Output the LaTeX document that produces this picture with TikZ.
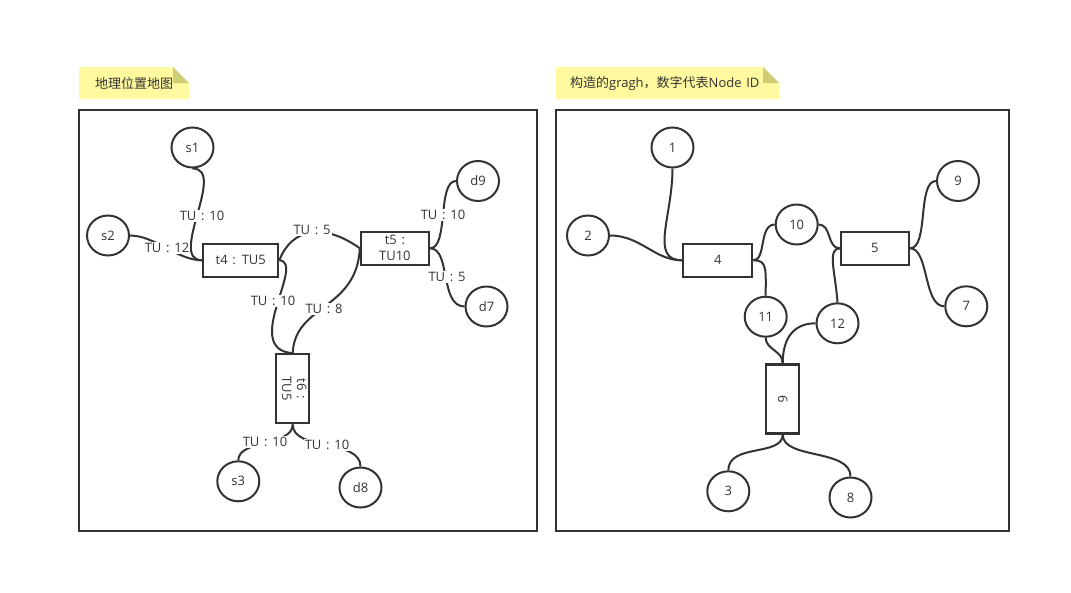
\documentclass[tikz,border=0pt]{standalone}
\usepackage{fontspec}
\usepackage{graphicx}
\setmainfont{Open Sans}[WordSpace=1.4]
\newfontfamily\cjk{Noto Sans CJK SC}
\usetikzlibrary{shapes.geometric}
\definecolor{ink}{HTML}{333333}
\definecolor{notefill}{RGB}{255,250,160}
\definecolor{notefold}{RGB}{205,205,120}
\tikzset{
  panel/.style={draw=ink, line width=2pt},
  circ/.style={ellipse, draw=ink, line width=2pt, minimum width=42pt, minimum height=40pt, inner sep=0pt, font=\fontsize{13}{15}\selectfont, text=ink},
  box/.style={rectangle, draw=ink, line width=2.2pt, inner sep=0pt, font=\fontsize{13}{16}\selectfont, text=ink, align=center},
  edge/.style={draw=ink, line width=2pt},
  lbl/.style={fill=white, inner sep=1pt, font=\fontsize{13}{15}\selectfont, text=ink},
  notetext/.style={font=\fontsize{13}{15}\selectfont, text=ink, anchor=west, inner sep=0pt}
}
\begin{document}
\begin{tikzpicture}[x=1pt,y=-1pt]
\useasboundingbox (0,0) rectangle (1071,592);
\fill[white] (0,0) rectangle (1071,592);

% notes
\fill[notefill] (79,67) -- (173,67) -- (189,83) -- (189,99) -- (79,99) -- cycle;
\fill[notefold] (173,67) -- (189,83) -- (173,83) -- cycle;
\node[notetext] (n1) at (95,83.5) {\cjk 地理位置地图};
\fill[notefill] (556,67) -- (763,67) -- (779,83) -- (779,99) -- (556,99) -- cycle;
\fill[notefold] (763,67) -- (779,83) -- (763,83) -- cycle;
\node[notetext] (n2) at (570,83.5) {{\cjk 构造的}gragh{\cjk ，数字代表}Node ID};

% panels
\draw[panel] (79,110) rectangle (537,531);
\draw[panel] (556,110) rectangle (1009,531);

% ---------- left panel ----------
\node[circ] (s1) at (192.5,147.5) {s1};
\node[circ] (s2) at (108,235.5) {s2};
\node[circ] (d9) at (478,181) {d9};
\node[circ] (d7) at (486.5,306.5) {d7};
\node[circ] (s3) at (238.3,481.3) {s3};
\node[circ] (d8) at (360.5,487.5) {d8};
\node[box, minimum width=75pt, minimum height=33pt] (t4) at (240.8,260.3) {t4 : TU5};
\node[box, minimum width=68pt, minimum height=33pt] (t5) at (394.9,248.3) {t5 :\\TU10};
\node[box, minimum width=33pt, minimum height=69pt] (t6) at (292.7,388.8)
  {\rotatebox{-90}{\begin{tabular}{@{}c@{}}t6 :\\[-1pt] TU5\end{tabular}}};

\draw[edge] (s1.south) .. controls +(35,0) and +(-35,0) .. (t4.west);
\draw[edge] (s2.east) .. controls +(25,0) and +(-25,0) .. (t4.west);
\draw[edge] (t4.east) .. controls +(12,-32) and +(-36,-26) .. (t5.west);
\draw[edge] (t4.east) .. controls +(27,2) and +(-52,-4) .. (t6.north);
\draw[edge] (t5.west) .. controls +(-3,62) and +(2,-49) .. (t6.north);
\draw[edge] (t5.east) .. controls +(19,0) and +(-19,0) .. (d9.west);
\draw[edge] (t5.east) .. controls +(21,0) and +(-25,0) .. (d7.west);
\draw[edge] (t6.south) .. controls +(0,22) and +(0,-21) .. (s3.north);
\draw[edge] (t6.south) .. controls +(0,27) and +(0,-28) .. (d8.north);

\node[lbl] (l1) at (202,216) {TU : 10};
\node[lbl] (l2) at (167,248) {TU : 12};
\node[lbl] (l3) at (312,230) {TU : 5};
\node[lbl] (l4) at (273,301) {TU : 10};
\node[lbl] (l5) at (324,309) {TU : 8};
\node[lbl] (l6) at (443,215) {TU : 10};
\node[lbl] (l7) at (447,277) {TU : 5};
\node[lbl] (l8) at (265,442) {TU : 10};
\node[lbl] (l9) at (327,445) {TU : 10};

% ---------- right panel ----------
\node[circ] (r1) at (672.5,147.5) {1};
\node[circ] (r2) at (588,235.5) {2};
\node[circ] (r10) at (796.7,224.5) {10};
\node[circ] (r9) at (958,181) {9};
\node[circ] (r7) at (966.3,306.3) {7};
\node[circ] (r11) at (765.7,316.7) {11};
\node[circ] (r12) at (837.5,323.3) {12};
\node[circ] (r3) at (728.3,491.3) {3};
\node[circ] (r8) at (850.5,497.5) {8};
\node[box, minimum width=69pt, minimum height=33pt] (r4) at (717.8,260.3) {4};
\node[box, minimum width=68pt, minimum height=33pt] (r5) at (874.9,248.3) {5};
\node[box, minimum width=33pt, minimum height=69pt] (r6) at (782.7,399) {\rotatebox{-90}{6}};

\draw[edge] (r1.south) .. controls +(0,48) and +(-33,0) .. (r4.west);
\draw[edge] (r2.east) .. controls +(31,0) and +(-28,0) .. (r4.west);
\draw[edge] (r4.east) .. controls +(13,0) and +(-16,0) .. (r10.west);
\draw[edge] (r4.east) .. controls +(14,0) and +(0,-27) .. (r11.north);
\draw[edge] (r10.east) .. controls +(13,0) and +(-13,0) .. (r5.west);
\draw[edge] (r5.west) .. controls +(-13,0) and +(-2,-29) .. (r12.north);
\draw[edge] (r5.east) .. controls +(19,0) and +(-19,0) .. (r9.west);
\draw[edge] (r5.east) .. controls +(19,0) and +(-21,0) .. (r7.west);
\draw[edge] (r11.south) .. controls +(0,12) and +(0,-13) .. (r6.north);
\draw[edge] (r12.west) .. controls +(-22,0) and +(0,-25) .. (r6.north);
\draw[edge] (r6.south) .. controls +(0,22) and +(0,-27) .. (r3.north);
\draw[edge] (r6.south) .. controls +(0,25) and +(0,-28) .. (r8.north);
\end{tikzpicture}
\end{document}
